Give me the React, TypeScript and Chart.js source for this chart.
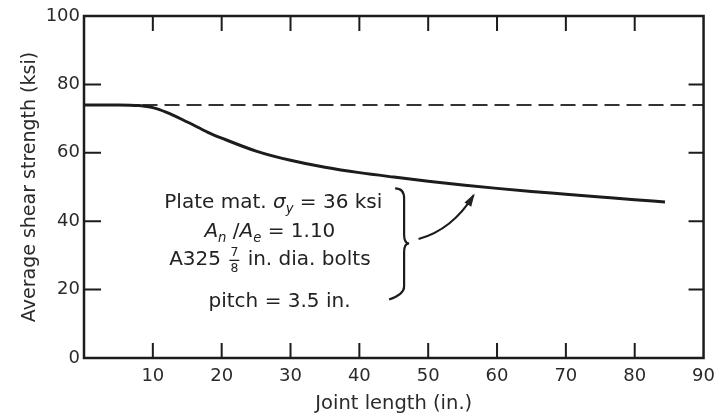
import React, { useEffect, useRef } from "react";
import { Chart, registerables } from "chart.js";

Chart.register(...registerables);

// Joint length (in.) vs. average shear strength (ksi)
const jointLength = [0, 5, 8, 10, 12, 15, 18, 20, 25, 30, 35, 40, 45, 50, 55, 60, 65, 70, 75, 80, 84.4];
const shearStrength = [74, 74, 73.8, 73.2, 71.8, 69, 66, 64.3, 60.5, 57.8, 55.8, 54.2, 52.9, 51.7, 50.6, 49.6, 48.7, 47.9, 47.1, 46.3, 45.6];

// Reference level (dashed)
const referenceLength = [8.5, 90];
const referenceStrength = [74, 74];

const xTicks = [0, 10, 20, 30, 40, 50, 60, 70, 80, 90];
const yTicks = [0, 20, 40, 60, 80, 100];

const FAMILY = '"DejaVu Sans", "Liberation Sans", Arial, sans-serif';
const INK = "#1c1c1c";

type Run = { text?: string; italic?: boolean; sub?: boolean; frac?: [string, string] };

const noteLines: { runs: Run[]; x: number; y: number }[] = [
  {
    runs: [{ text: "Plate mat. " }, { text: "σ", italic: true }, { text: "y", italic: true, sub: true }, { text: " = 36 ksi" }],
    x: 27.5,
    y: 45.3,
  },
  {
    runs: [
      { text: "A", italic: true },
      { text: "n", italic: true, sub: true },
      { text: " /" },
      { text: "A", italic: true },
      { text: "e", italic: true, sub: true },
      { text: " = 1.10" },
    ],
    x: 27.0,
    y: 36.8,
  },
  {
    runs: [{ text: "A325 " }, { frac: ["7", "8"] }, { text: " in. dia. bolts" }],
    x: 27.0,
    y: 28.7,
  },
  {
    runs: [{ text: "pitch = 3.5 in." }],
    x: 28.4,
    y: 16.4,
  },
];

const SIZE = 20;
const FRAC = SIZE * 0.62;

function runFont(r: Run) {
  const sz = r.sub ? SIZE * 0.66 : SIZE;
  return `${r.italic ? "italic " : ""}${sz}px ${FAMILY}`;
}

function runWidth(ctx: CanvasRenderingContext2D, r: Run) {
  if (r.frac) {
    ctx.font = `${FRAC}px ${FAMILY}`;
    return Math.max(ctx.measureText(r.frac[0]).width, ctx.measureText(r.frac[1]).width) + 6;
  }
  ctx.font = runFont(r);
  return ctx.measureText(r.text || "").width;
}

function drawRuns(ctx: CanvasRenderingContext2D, runs: Run[], cx: number, cy: number) {
  const widths = runs.map((r) => runWidth(ctx, r));
  const total = widths.reduce((a, b) => a + b, 0);
  let x = cx - total / 2;
  ctx.textBaseline = "middle";
  ctx.textAlign = "left";
  runs.forEach((r, i) => {
    if (r.frac) {
      const w = widths[i];
      ctx.font = `${FRAC}px ${FAMILY}`;
      ctx.textAlign = "center";
      ctx.fillText(r.frac[0], x + w / 2, cy - 7);
      ctx.fillText(r.frac[1], x + w / 2, cy + 8.5);
      ctx.beginPath();
      ctx.lineWidth = 1.3;
      ctx.moveTo(x + 2, cy + 0.5);
      ctx.lineTo(x + w - 2, cy + 0.5);
      ctx.stroke();
      ctx.textAlign = "left";
    } else {
      ctx.font = runFont(r);
      ctx.fillText(r.text || "", x, r.sub ? cy + SIZE * 0.3 : cy);
    }
    x += widths[i];
  });
}

const framePlugin = {
  id: "frameAndNotes",
  afterDraw(chart: any) {
    const { ctx, chartArea, scales } = chart;
    const { left, right, top, bottom } = chartArea;
    const xs = scales.x;
    const ys = scales.y;
    ctx.save();
    ctx.strokeStyle = INK;
    ctx.fillStyle = INK;

    // Frame
    ctx.lineWidth = 2.5;
    ctx.strokeRect(left, top, right - left, bottom - top);

    // Inward tick marks on all four sides
    const TL = 15;
    ctx.lineWidth = 2;
    ctx.beginPath();
    xTicks.slice(1, -1).forEach((v) => {
      const px = xs.getPixelForValue(v);
      ctx.moveTo(px, bottom);
      ctx.lineTo(px, bottom - TL);
      ctx.moveTo(px, top);
      ctx.lineTo(px, top + TL);
    });
    yTicks.slice(1, -1).forEach((v) => {
      const py = ys.getPixelForValue(v);
      ctx.moveTo(left, py);
      ctx.lineTo(left + TL + 2, py);
      ctx.moveTo(right, py);
      ctx.lineTo(right - TL, py);
    });
    ctx.stroke();

    // Notes
    ctx.fillStyle = "#222";
    ctx.strokeStyle = "#222";
    noteLines.forEach((l) => drawRuns(ctx, l.runs, xs.getPixelForValue(l.x), ys.getPixelForValue(l.y)));

    // Brace
    const bx = xs.getPixelForValue(46.5);
    const bTop = ys.getPixelForValue(49.6);
    const bMid = ys.getPixelForValue(33.5);
    const bBot = ys.getPixelForValue(17.4);
    ctx.strokeStyle = INK;
    ctx.lineWidth = 2.2;
    ctx.beginPath();
    ctx.moveTo(bx - 9, bTop);
    ctx.quadraticCurveTo(bx, bTop, bx, bTop + 10);
    ctx.lineTo(bx, bMid - 9);
    ctx.quadraticCurveTo(bx, bMid, bx + 5, bMid);
    ctx.quadraticCurveTo(bx, bMid, bx, bMid + 9);
    ctx.lineTo(bx, bBot - 12);
    ctx.quadraticCurveTo(bx, bBot - 4, bx - 15, bBot + 1);
    ctx.stroke();

    // Arrow toward the curve
    const ax0 = xs.getPixelForValue(48.6);
    const ay0 = ys.getPixelForValue(34.8);
    const ax1 = xs.getPixelForValue(56.6);
    const ay1 = ys.getPixelForValue(47.6);
    const cx = xs.getPixelForValue(53.5);
    const cy = ys.getPixelForValue(37.5);
    ctx.beginPath();
    ctx.moveTo(ax0, ay0);
    ctx.quadraticCurveTo(cx, cy, ax1, ay1);
    ctx.stroke();
    const ang = Math.atan2(ay1 - cy, ax1 - cx);
    ctx.beginPath();
    ctx.moveTo(ax1 + 2 * Math.cos(ang), ay1 + 2 * Math.sin(ang));
    ctx.lineTo(ax1 - 11 * Math.cos(ang) + 4 * Math.sin(ang), ay1 - 11 * Math.sin(ang) - 4 * Math.cos(ang));
    ctx.lineTo(ax1 - 11 * Math.cos(ang) - 4 * Math.sin(ang), ay1 - 11 * Math.sin(ang) + 4 * Math.cos(ang));
    ctx.closePath();
    ctx.fill();

    ctx.restore();
  },
};

export default function App() {
  const ref = useRef<HTMLCanvasElement>(null);

  useEffect(() => {
    if (!ref.current) return;
    const chart = new Chart(ref.current, {
      type: "scatter",
      data: {
        datasets: [
          {
            data: jointLength.map((x, i) => ({ x, y: shearStrength[i] })),
            showLine: true,
            borderColor: INK,
            borderWidth: 3,
            pointRadius: 0,
            cubicInterpolationMode: "monotone",
          },
          {
            data: referenceLength.map((x, i) => ({ x, y: referenceStrength[i] })),
            showLine: true,
            borderColor: "#333",
            borderWidth: 2,
            borderDash: [15, 7],
            pointRadius: 0,
          },
        ],
      },
      options: {
        animation: false,
        responsive: false,
        events: [],
        layout: { padding: { top: 16, right: 14, left: 0, bottom: 0 } },
        plugins: { legend: { display: false }, tooltip: { enabled: false } },
        scales: {
          x: {
            type: "linear",
            min: 0,
            max: 90,
            afterBuildTicks: (s: any) => {
              s.ticks = xTicks.map((value) => ({ value }));
            },
            afterFit: (s: any) => {
              s.height = 58;
            },
            grid: { display: false, drawTicks: false },
            border: { display: false },
            ticks: {
              padding: 8,
              color: "#2a2a2a",
              font: { family: FAMILY, size: 18 },
              callback: (v: any) => (v === 0 ? "" : String(v)),
              maxRotation: 0,
            },
            title: {
              display: true,
              text: "Joint length (in.)",
              color: "#2a2a2a",
              font: { family: FAMILY, size: 19.5 },
              padding: { top: 0, bottom: 0 },
            },
          },
          y: {
            type: "linear",
            min: 0,
            max: 100,
            afterBuildTicks: (s: any) => {
              s.ticks = yTicks.map((value) => ({ value }));
            },
            afterFit: (s: any) => {
              s.width = 84;
            },
            grid: { display: false, drawTicks: false },
            border: { display: false },
            ticks: {
              padding: 4,
              color: "#2a2a2a",
              font: { family: FAMILY, size: 18 },
            },
            title: {
              display: true,
              text: "Average shear strength (ksi)",
              color: "#2a2a2a",
              font: { family: FAMILY, size: 19 },
              padding: { top: 19, bottom: 0 },
            },
          },
        },
      },
      plugins: [framePlugin],
    } as any);
    return () => chart.destroy();
  }, []);

  return (
    <div style={{ position: "fixed", left: 0, top: 0, width: 723, height: 416, background: "#fff" }}>
      <canvas ref={ref} width={723} height={416} style={{ display: "block" }} />
    </div>
  );
}
